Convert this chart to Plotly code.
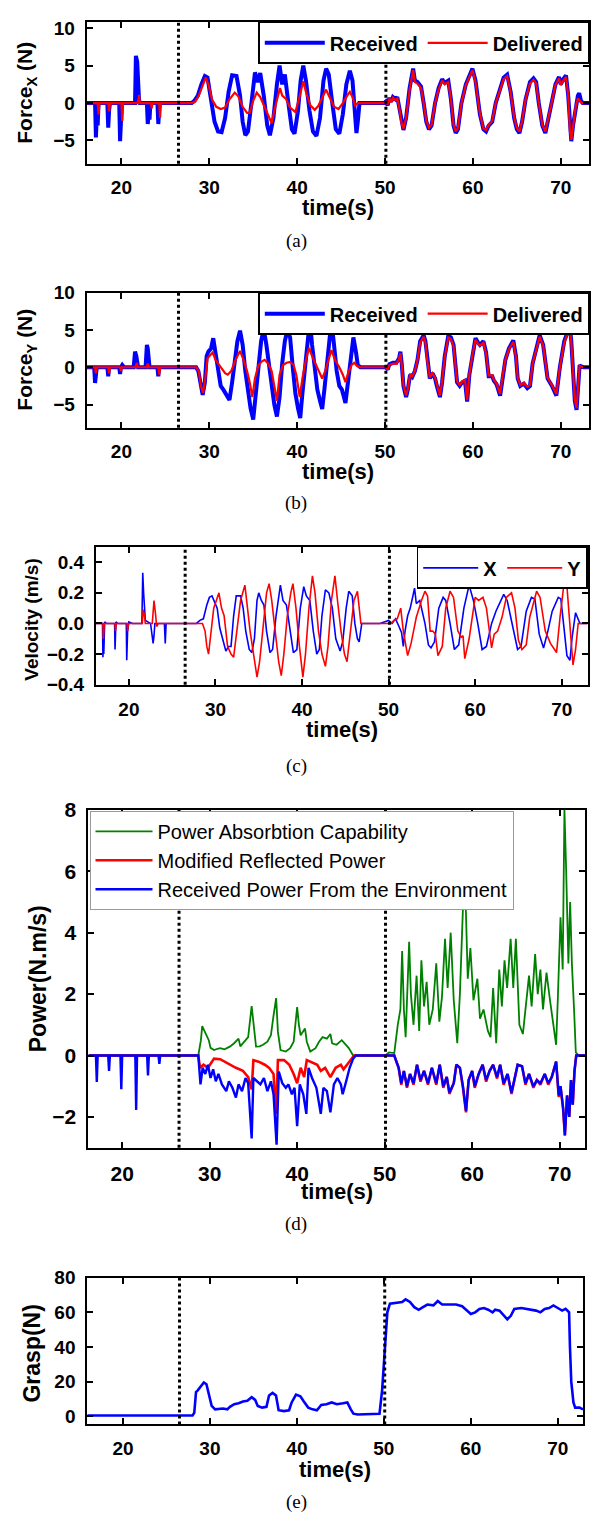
import plotly.graph_objects as go

W, H = 593, 1530
FONT = "Liberation Sans, Arial, sans-serif"
SERIF = "Liberation Serif, Times New Roman, serif"

# ---------------- data (time in s, value) ----------------
event_times = [26.5, 50.1]

fx_received = [(16.05,0),(17.0,0),(17.1,-4.6),(17.2,-1.5),(17.3,-3.0),(17.4,0),(18.4,0),(18.5,-3.3),(18.6,-1.0),(18.7,0),
    (19.75,0),(19.85,-5.1),(19.95,-2.5),(20.05,0),(21.55,0),(21.65,6.3),(21.8,5.5),(21.9,1.0),(22.0,0.5),(22.1,0),
    (22.9,0),(23.0,-2.8),(23.1,-1.2),(23.2,-2.2),(23.3,0),(24.1,0),(24.2,-2.8),(24.35,0),
    (28.0,0),(28.3,0.3),(28.7,1.0),(29.1,2.5),(29.5,3.6),(29.8,3.4),(30.2,0.5),(30.6,-2.5),(31.0,-3.8),(31.4,-3.9),
    (31.8,-2.0),(32.2,1.5),(32.6,3.7),(33.1,3.6),(33.5,1.0),(33.8,-2.5),(34.1,-4.3),(34.4,-3.8),(34.8,0),(35.2,4.1),
    (35.5,2.8),(35.8,4.0),(36.2,1.0),(36.6,-3.0),(36.9,-4.3),(37.3,-2.0),(37.7,2.5),(38.0,5.0),(38.3,2.5),(38.6,3.8),
    (39.0,0),(39.4,-3.5),(39.7,-4.1),(40.1,-1.0),(40.4,3.0),(40.7,5.0),(41.0,3.0),(41.4,-1.0),(41.8,-3.8),(42.2,-4.4),
    (42.6,-2.0),(43.0,3.0),(43.3,4.6),(43.6,3.8),(44.0,0),(44.4,-3.5),(44.8,-4.1),(45.2,-1.5),(45.6,2.5),(46.0,4.3),
    (46.3,3.0),(46.5,-1.0),(46.75,-4.0),(46.9,-2.5),(47.1,0),(47.3,0),
    (49.9,0),(50.1,0.2),(50.3,-0.3),(50.5,0.7),(50.7,0.2),(50.9,0.8),(51.2,0.5),(51.4,0.8),(51.6,-0.5),(51.9,-3.0),
    (52.1,-3.6),(52.4,-2.0),(52.8,2.0),(53.2,4.6),(53.4,3.0),(53.7,2.8),(54.1,2.2),(54.4,0),(54.7,-2.5),(55.0,-3.5),
    (55.3,-3.0),(55.7,0),(56.1,2.0),(56.5,3.2),(56.8,2.7),(57.2,3.0),(57.5,0.5),(57.8,-3.0),(58.05,-4.0),(58.3,-3.5),
    (58.7,0),(59.2,2.5),(59.7,4.0),(59.95,4.6),(60.3,3.0),(60.8,-1.5),(61.2,-3.5),(61.5,-3.8),(61.8,-3.0),(62.2,-2.5),
    (62.6,0),(63.0,1.5),(63.5,3.4),(63.9,3.8),(64.3,1.5),(64.7,-2.0),(65.0,-3.5),(65.3,-4.0),(65.6,-2.5),(66.0,0.5),
    (66.5,2.8),(66.9,3.3),(67.2,2.8),(67.5,0),(67.9,-3.0),(68.25,-4.0),(68.6,-2.0),(69.0,0.5),(69.4,2.5),(69.8,3.5),
    (70.0,2.5),(70.3,3.2),(70.6,3.7),(70.85,1.0),(71.05,-4.0),(71.2,-5.1),(71.4,-3.0),(71.7,-0.5),(71.95,1.0),(72.1,1.3),
    (72.3,0.3),(72.5,0),(73.25,0)]

fx_delivered = [(16.05,0),(17.3,0),(17.4,-1.5),(17.5,0),(18.5,0),(18.6,-1.1),(18.7,0),(20.0,0),(20.1,-2.4),(20.2,0),
    (21.9,0),(22.0,1.1),(22.1,0),(23.35,0),(23.45,-0.7),(23.55,0),(24.3,0),(24.4,-2.0),(24.5,0),
    (28.0,0),(28.4,0.2),(28.8,1.0),(29.2,2.2),(29.6,3.4),(29.9,2.5),(30.3,0.5),(30.8,-0.5),(31.3,-0.8),(31.8,-0.6),
    (32.3,0.5),(32.9,1.4),(33.3,0.9),(33.8,-0.5),(34.3,-1.3),(34.6,-1.3),(35.0,0.3),(35.4,1.4),(35.8,0.8),(36.4,-0.8),
    (36.8,-1.8),(37.1,-2.7),(37.4,-1.0),(37.8,1.0),(38.05,2.0),(38.3,1.0),(38.7,0.6),(39.2,-0.6),(39.8,-1.2),(40.2,0.5),
    (40.5,2.0),(40.7,2.9),(41.0,1.5),(41.5,-0.3),(42.0,-0.9),(42.4,-0.4),(42.9,0.8),(43.3,1.8),(43.6,1.0),(44.2,-0.5),
    (44.7,-0.8),(45.2,0),(45.7,1.0),(46.0,1.5),(46.3,0.8),(46.6,-0.3),(46.9,0),
    (49.9,0),(50.1,0.2),(50.3,-0.2),(50.5,0.6),(50.7,0.1),(50.9,0.7),(51.2,0.4),(51.4,0.6),(51.6,-0.5),(51.9,-2.8),
    (52.1,-3.4),(52.4,-2.0),(52.8,1.8),(53.2,4.4),(53.4,2.8),(53.7,2.6),(54.1,2.0),(54.4,0),(54.7,-2.4),(55.0,-3.3),
    (55.3,-2.9),(55.7,0),(56.1,1.8),(56.5,3.0),(56.8,2.5),(57.2,2.8),(57.5,0.5),(57.8,-2.9),(58.05,-3.8),(58.3,-3.3),
    (58.7,0),(59.2,2.4),(59.7,3.9),(59.95,4.4),(60.3,2.8),(60.8,-1.4),(61.2,-3.4),(61.5,-3.6),(61.8,-2.9),(62.2,-2.4),
    (62.6,0),(63.0,1.4),(63.5,3.2),(63.9,3.6),(64.3,1.4),(64.7,-1.9),(65.0,-3.3),(65.3,-3.8),(65.6,-2.4),(66.0,0.5),
    (66.5,2.6),(66.9,3.1),(67.2,2.6),(67.5,0),(67.9,-2.9),(68.25,-3.8),(68.6,-1.9),(69.0,0.5),(69.4,2.4),(69.8,3.3),
    (70.0,2.4),(70.3,3.0),(70.6,3.5),(70.85,1.0),(71.05,-3.8),(71.2,-4.9),(71.4,-2.9),(71.7,-0.5),(71.95,0.6),(72.1,0.4),
    (72.3,0.1),(72.5,0),(73.25,0)]

fy_received = [(16.05,0),(16.9,0),(17.0,-2.1),(17.1,-1.0),(17.2,0),(18.4,0),(18.5,-1.2),(18.6,0),(19.75,0),(19.85,-0.9),
    (19.95,0),(20.1,0.3),(20.3,0),(21.4,0),(21.55,2.1),(21.7,1.5),(21.8,0.3),(21.9,0),(22.75,0),(22.9,3.0),(23.0,2.5),
    (23.1,1.2),(23.2,0),(24.1,0),(24.2,-1.2),(24.3,0),
    (28.5,0),(28.75,-0.5),(29.0,-2.5),(29.25,-3.7),(29.5,-2.0),(29.7,1.5),(29.9,2.1),(30.2,2.5),(30.45,3.9),(30.7,2.0),
    (31.0,-0.5),(31.3,-2.5),(31.6,-3.0),(32.0,-3.8),(32.3,-4.4),(32.6,-2.0),(32.9,1.0),(33.2,3.5),(33.5,4.9),(33.8,3.0),
    (34.1,-0.5),(34.4,-3.5),(34.7,-5.5),(35.0,-7.0),(35.3,-4.0),(35.6,0),(35.9,3.5),(36.2,5.1),(36.5,3.0),(36.8,0),
    (37.1,-2.5),(37.4,-5.0),(37.7,-6.6),(38.0,-4.0),(38.3,0.5),(38.6,3.5),(38.9,5.0),(39.2,4.0),(39.5,0),(39.8,-3.5),
    (40.1,-5.5),(40.35,-6.8),(40.6,-3.5),(40.9,0.5),(41.2,4.0),(41.45,6.3),(41.7,3.0),(42.0,-0.5),(42.3,-3.0),(42.6,-4.5),
    (42.85,-5.6),(43.1,-3.0),(43.4,1.0),(43.7,4.5),(43.9,6.2),(44.2,3.0),(44.5,-0.5),(44.8,-2.5),(45.1,-3.0),(45.5,-4.8),
    (45.8,-2.0),(46.1,1.5),(46.4,4.0),(46.7,2.0),(46.9,0.3),(47.2,0),
    (50.1,0),(50.3,-0.3),(50.5,0.4),(50.9,0.6),(51.3,0.6),(51.6,1.2),(51.75,2.1),(51.9,0.5),(52.1,-2.5),(52.4,-4.0),
    (52.6,-3.0),(52.85,-1.0),(53.1,-1.3),(53.4,-0.5),(53.7,1.0),(54.0,3.5),(54.4,4.3),(54.6,3.5),(54.8,1.0),(55.1,-1.5),
    (55.4,-0.8),(55.7,-1.5),(55.9,-2.5),(56.25,-4.0),(56.5,-2.0),(56.8,1.5),(57.2,4.2),(57.5,4.0),(57.8,3.0),(58.0,0),
    (58.2,-2.0),(58.5,-2.5),(58.8,-2.0),(59.1,-1.8),(59.35,-4.6),(59.6,-1.0),(59.9,1.5),(60.3,3.9),(60.6,3.3),(60.8,3.0),
    (61.2,3.5),(61.5,2.0),(61.8,-1.2),(62.2,-1.2),(62.4,-1.8),(62.7,-2.3),(63.1,-3.8),(63.4,-1.0),(63.7,1.0),(64.1,2.5),
    (64.6,3.6),(64.9,1.5),(65.1,-1.5),(65.4,-2.5),(65.8,-2.2),(66.2,-2.8),(66.5,-2.5),(66.8,0.5),(67.3,3.0),(67.6,4.3),
    (68.0,3.0),(68.3,0),(68.5,-1.5),(69.0,-2.5),(69.5,-3.8),(69.9,0),(70.4,3.5),(70.8,4.8),(71.0,6.0),(71.2,3.5),
    (71.4,-1.0),(71.6,-4.5),(71.8,-5.7),(72.0,-2.0),(72.15,0.3),(72.3,0.1),(72.6,0),(73.25,0)]

fy_delivered = [(16.05,0),(17.0,0),(17.1,-0.8),(17.2,0),(18.5,0),(18.6,-0.8),(18.7,0),(19.85,0),(19.95,-0.5),(20.05,0),
    (21.6,0),(21.75,0.6),(21.85,0),(22.9,0),(23.0,0.5),(23.1,0),(24.2,0),(24.3,-1.0),(24.4,0),
    (28.5,0),(28.8,-0.5),(29.05,-2.5),(29.3,-3.4),(29.55,-1.5),(29.8,1.2),(30.0,1.5),(30.4,2.0),(30.7,1.0),(31.0,0.5),
    (31.4,0),(31.8,-0.8),(32.1,-1.0),(32.5,-0.5),(33.0,1.0),(33.5,2.2),(33.9,1.0),(34.3,-0.5),(34.6,-2.0),(34.9,-4.0),
    (35.2,-1.5),(35.6,0.3),(36.0,0.8),(36.3,1.0),(36.7,0.5),(37.1,-0.5),(37.4,-2.5),(37.7,-4.5),(38.0,-1.0),(38.4,0.3),
    (38.8,0.6),(39.2,0.7),(39.6,0.3),(39.9,-1.0),(40.3,-4.0),(40.6,-1.5),(41.0,1.0),(41.35,2.6),(41.7,1.5),(42.1,0.5),
    (42.5,-0.5),(42.85,-1.5),(43.2,-0.5),(43.6,1.0),(43.9,2.3),(44.3,1.0),(44.8,0),(45.2,-1.0),(45.5,-2.0),(45.8,-0.8),
    (46.2,0.3),(46.5,0.6),(46.8,0.2),(47.2,0),
    (50.1,0),(50.3,-0.3),(50.5,0.3),(50.9,0.5),(51.3,0.5),(51.6,1.1),(51.75,1.9),(51.9,0.4),(52.1,-2.4),(52.4,-3.8),
    (52.6,-2.9),(52.85,-1.0),(53.1,-1.2),(53.4,-0.5),(53.7,1.0),(54.0,3.3),(54.4,4.1),(54.6,3.3),(54.8,1.0),(55.1,-1.4),
    (55.4,-0.8),(55.7,-1.4),(55.9,-2.4),(56.25,-3.8),(56.5,-1.9),(56.8,1.4),(57.2,4.0),(57.5,3.8),(57.8,2.8),(58.0,0),
    (58.2,-1.9),(58.5,-2.4),(58.8,-1.9),(59.1,-1.7),(59.35,-4.4),(59.6,-1.0),(59.9,1.4),(60.3,3.7),(60.6,3.1),(60.8,2.9),
    (61.2,3.3),(61.5,1.9),(61.8,-1.1),(62.2,-1.1),(62.4,-1.7),(62.7,-2.2),(63.1,-3.6),(63.4,-1.0),(63.7,1.0),(64.1,2.4),
    (64.6,3.4),(64.9,1.4),(65.1,-1.4),(65.4,-2.4),(65.8,-2.1),(66.2,-2.6),(66.5,-2.4),(66.8,0.5),(67.3,2.9),(67.6,4.1),
    (68.0,2.9),(68.3,0),(68.5,-1.4),(69.0,-2.4),(69.5,-3.6),(69.9,0),(70.4,3.3),(70.8,4.6),(71.0,5.8),(71.2,3.3),
    (71.4,-1.0),(71.6,-4.3),(71.8,-5.5),(72.0,-1.9),(72.15,0.2),(72.3,0.1),(72.6,0),(73.25,0)]

vel_x = [(16.2,0),(16.95,0),(17.0,-0.22),(17.05,-0.1),(17.1,-0.2),(17.2,0.01),(17.4,0),(18.35,0),(18.4,-0.17),(18.5,0.01),
    (18.7,0),(19.7,0),(19.75,-0.24),(19.85,-0.05),(20.0,0.01),(20.4,0),(21.5,0),(21.6,0.33),(21.7,0.2),(21.8,0.1),
    (21.9,0.02),(22.5,0),(22.6,-0.05),(22.8,-0.13),(22.9,-0.08),(23.0,0),(24.1,0),(24.2,-0.13),(24.3,0),(24.5,0),
    (27.8,0),(28.2,0.02),(28.6,0.03),(29.0,0.12),(29.3,0.17),(29.6,0.18),(29.8,0.15),(30.2,0.1),(30.5,-0.03),(30.9,-0.12),
    (31.2,-0.18),(31.5,-0.15),(31.8,-0.15),(32.1,0.05),(32.4,0.18),(32.9,0.18),(33.2,0.1),(33.5,-0.05),(33.9,-0.17),
    (34.2,-0.19),(34.5,-0.1),(34.8,0.15),(35.0,0.2),(35.3,0.15),(35.6,0.12),(35.9,-0.05),(36.3,-0.19),(36.6,-0.17),
    (37.0,0.05),(37.5,0.25),(37.8,0.15),(38.2,0.12),(38.6,-0.05),(39.0,-0.19),(39.4,-0.17),(39.8,0.1),(40.2,0.24),
    (40.5,0.18),(40.9,0.15),(41.3,-0.05),(41.7,-0.2),(42.0,-0.17),(42.3,0.05),(42.7,0.22),(43.1,0.2),(43.5,0.1),
    (43.9,-0.1),(44.4,-0.18),(44.7,-0.12),(45.1,0.1),(45.4,0.21),(45.8,0.18),(46.1,0.0),(46.4,-0.1),(46.6,-0.12),
    (46.9,0),(49.0,0),(49.5,0.01),(50.0,0.02),(50.4,0.0),(50.8,0.03),(51.2,-0.02),(51.5,-0.06),(51.7,-0.15),(51.9,-0.05),
    (52.2,0.05),(52.5,0.1),(53.0,0.23),(53.2,0.13),(53.6,0.15),(54.2,0),(54.6,-0.14),(54.9,-0.16),(55.3,-0.12),
    (55.8,0.1),(56.3,0.17),(56.6,0.15),(57.1,0),(57.6,-0.17),(58.1,-0.14),(58.7,0.1),(59.3,0.25),(59.8,0.15),(60.3,0),
    (60.8,-0.17),(61.3,-0.15),(61.9,0),(62.4,0.08),(63.3,0.19),(63.7,0.15),(64.3,0),(64.9,-0.17),(65.3,-0.15),
    (65.9,0.08),(66.5,0.17),(66.9,0.16),(67.4,-0.07),(67.9,-0.16),(68.4,-0.05),(68.9,0.08),(69.6,0.17),(69.9,0.16),
    (70.3,-0.05),(70.6,-0.21),(70.95,-0.24),(71.2,-0.09),(71.6,0.07),(71.8,0.04),(72.1,0),(73.0,0)]

vel_y = [(16.2,0),(17.0,0),(17.05,-0.1),(17.15,0),(18.4,0),(18.45,-0.05),(18.55,0),(19.8,0),(19.85,-0.05),(19.95,0),
    (21.55,0),(21.65,0.09),(21.8,0.05),(21.9,0),(22.7,0),(22.9,0.15),(23.1,0.05),(23.2,-0.02),(23.4,0),
    (28.5,0),(28.8,-0.05),(29.0,-0.15),(29.2,-0.2),(29.5,-0.05),(29.8,0.1),(30.1,0.15),(30.4,0.2),(30.7,0.1),(31.0,0.05),
    (31.4,-0.15),(31.8,-0.2),(32.1,-0.22),(32.5,-0.05),(32.9,0.15),(33.4,0.25),(33.7,0.1),(34.0,-0.05),(34.4,-0.2),
    (34.8,-0.35),(35.1,-0.25),(35.5,0.0),(35.9,0.2),(36.2,0.26),(36.5,0.15),(36.9,-0.05),(37.3,-0.25),(37.6,-0.34),
    (37.9,-0.2),(38.3,0.05),(38.7,0.2),(38.95,0.26),(39.3,0.1),(39.7,-0.15),(40.1,-0.35),(40.4,-0.2),(40.8,0.1),
    (41.2,0.31),(41.5,0.2),(41.9,-0.05),(42.3,-0.2),(42.7,-0.28),(43.0,-0.15),(43.4,0.15),(43.8,0.31),(44.1,0.15),
    (44.5,-0.05),(44.9,-0.2),(45.2,-0.25),(45.6,-0.05),(46.0,0.15),(46.4,0.21),(46.6,0.1),(46.8,0),
    (50.3,0),(50.6,0.02),(51.0,0.03),(51.4,0.1),(51.7,-0.05),(52.0,-0.15),(52.2,-0.21),(52.6,-0.13),(53.2,0.04),
    (53.8,0.15),(54.2,0.21),(54.5,0.18),(54.8,-0.05),(55.1,-0.05),(55.4,-0.07),(55.7,-0.21),(56.2,-0.15),(56.6,0.1),
    (57.1,0.21),(57.5,0.17),(58.0,-0.05),(58.4,-0.09),(58.6,-0.08),(58.8,-0.23),(59.3,-0.1),(60.0,0.17),(60.4,0.15),
    (60.9,0.17),(61.3,0.1),(61.9,-0.16),(62.2,-0.07),(62.6,-0.05),(63.1,0.04),(63.6,0.17),(64.2,0.2),(64.6,0.1),
    (65.0,-0.11),(65.4,-0.17),(65.9,-0.14),(66.3,0.04),(67.1,0.21),(67.5,0.17),(68.1,-0.05),(68.7,-0.13),(69.4,-0.19),
    (69.8,0.04),(70.2,0.23),(70.55,0.28),(70.8,0.1),(71.1,-0.17),(71.3,-0.27),(71.6,-0.17),(71.9,0),(73.0,0)]

power_absorb = [(16.14,0),(28.7,0),(29.0,0.5),(29.15,0.96),(29.4,0.8),(29.7,0.6),(29.9,0.5),(30.1,0.25),(30.5,0.18),
    (30.9,0.22),(31.2,0.24),(31.7,0.2),(32.3,0.29),(32.8,0.4),(33.3,0.55),(33.5,0.3),(34.0,0.45),(34.4,0.6),(34.8,1.61),
    (35.0,1.0),(35.3,0.29),(35.7,0.3),(36.1,0.35),(36.6,0.45),(37.0,0.66),(37.3,1.3),(37.6,1.87),(37.8,0.77),(38.1,0.18),
    (38.7,0.13),(39.2,0.24),(39.6,0.45),(40.0,1.58),(40.2,1.0),(40.4,0.66),(40.9,0.88),(41.1,0.45),(41.5,0.13),
    (42.1,0.24),(42.5,0.45),(42.9,0.6),(43.4,0.55),(43.8,0.7),(44.0,0.4),(44.5,0.35),(45.1,0.5),(45.4,0.4),(45.9,0.24),
    (46.4,0),(50.05,0),(50.5,0.1),(51.1,0.08),(51.5,1.0),(51.8,1.5),(52.0,3.4),(52.2,1.5),(52.4,0.6),(52.8,3.7),
    (53.0,2.0),(53.3,1.0),(53.65,2.6),(53.95,0.8),(54.2,3.1),(54.5,1.6),(54.8,2.4),(55.1,1.0),(55.5,1.5),(55.9,3.0),
    (56.25,1.1),(56.55,1.9),(56.9,3.8),(57.2,2.2),(57.55,4.0),(57.9,1.8),(58.3,0.4),(58.6,2.0),(58.95,4.8),(59.2,5.6),
    (59.5,2.5),(59.8,3.5),(60.15,1.8),(60.6,2.5),(60.9,1.2),(61.3,1.5),(61.8,0.8),(62.1,0.6),(62.4,2.2),(62.75,0.4),
    (63.1,2.8),(63.4,1.6),(63.7,3.1),(64.0,2.2),(64.4,3.8),(64.7,2.2),(65.0,3.8),(65.4,1.0),(65.8,0.7),(66.1,1.5),
    (66.5,2.6),(66.8,1.6),(67.2,3.3),(67.5,2.0),(67.8,2.8),(68.1,1.5),(68.5,2.7),(68.9,1.8),(69.3,1.0),(69.6,0.35),
    (69.8,1.9),(70.1,4.5),(70.35,2.8),(70.55,8.0),(70.75,6.0),(71.0,3.0),(71.2,5.0),(71.4,3.0),(71.65,1.5),(71.85,0.1),
    (72.2,0),(72.9,0)]

power_reflected = [(16.14,0),(21.5,0),(21.6,-0.1),(21.7,0),(22.9,0),(22.95,-0.08),(23.05,0),
    (28.7,0),(28.9,-0.4),(29.3,-0.3),(29.8,-0.4),(30.5,-0.1),(31.2,-0.12),(31.7,-0.2),(32.4,-0.3),(33.0,-0.4),
    (33.8,-0.5),(34.4,-0.7),(34.8,-1.1),(35.0,-0.15),(35.6,-0.2),(36.3,-0.3),(36.8,-0.4),(37.3,-0.6),(37.6,-1.9),
    (37.8,-0.15),(38.5,-0.15),(39.1,-0.3),(39.6,-0.6),(40.0,-0.9),(40.4,-0.4),(40.8,-0.7),(41.1,-0.15),(41.8,-0.25),
    (42.3,-0.3),(42.7,-0.5),(43.2,-0.4),(43.8,-0.7),(44.4,-0.4),(45.0,-0.3),(45.3,-0.45),(45.7,-0.3),(46.2,-0.1),
    (46.5,0),(51.1,0),(51.6,-0.4),(51.9,-0.95),(52.2,-0.5),(52.55,-1.05),(52.9,-0.6),(53.3,-0.95),(53.7,-0.3),(54.1,-0.85),
    (54.5,-0.5),(54.95,-0.95),(55.4,-0.4),(55.9,-0.95),(56.3,-0.3),(56.7,-1.05),(57.1,-0.7),(57.4,-1.25),(57.9,-0.9),
    (58.2,-0.3),(58.6,-0.4),(58.95,-1.05),(59.3,-1.85),(59.6,-0.8),(60.0,-0.5),(60.3,-1.05),(60.75,-0.6),(61.2,-0.3),
    (61.6,-0.85),(62.0,-0.5),(62.4,-0.3),(62.85,-0.75),(63.2,-0.3),(63.6,-0.95),(64.05,-0.6),(64.5,-1.25),(64.8,-0.8),
    (65.2,-0.3),(65.7,-0.35),(66.1,-0.95),(66.5,-0.6),(67.0,-1.05),(67.4,-0.8),(67.8,-0.95),(68.3,-0.6),(68.7,-0.95),
    (69.1,-0.7),(69.6,-0.2),(69.9,-1.35),(70.1,-1.0),(70.4,-1.75),(70.6,-2.6),(70.85,-1.3),(71.1,-2.0),(71.3,-0.8),
    (71.5,-1.6),(71.7,-0.5),(71.9,0),(72.9,0)]

power_received = [(16.14,0),(17.0,0),(17.1,-0.86),(17.2,0),(18.4,0),(18.5,-0.5),(18.6,0),(19.8,0),(19.9,-1.1),(20.0,0),
    (21.5,0),(21.6,-1.77),(21.7,0),(22.85,0),(22.95,-0.65),(23.05,0),(24.15,0),(24.25,-0.27),(24.35,0),
    (28.7,0),(28.95,-0.94),(29.2,-0.4),(29.5,-0.6),(29.8,-0.3),(30.1,-0.73),(30.4,-0.45),(30.7,-0.84),(31.0,-0.6),
    (31.4,-0.94),(31.9,-1.16),(32.2,-0.84),(32.6,-1.05),(33.0,-1.37),(33.3,-0.94),(33.7,-1.16),(34.1,-0.73),(34.4,-0.9),
    (34.8,-2.7),(35.0,-0.73),(35.4,-0.84),(35.8,-0.94),(36.2,-0.73),(36.6,-1.16),(37.0,-0.84),(37.3,-1.26),(37.65,-2.9),
    (37.9,-0.52),(38.3,-0.9),(38.7,-1.05),(39.0,-0.94),(39.4,-1.26),(39.7,-1.05),(40.0,-2.3),(40.3,-0.94),(40.7,-1.26),
    (41.05,-1.9),(41.3,-0.4),(41.7,-0.73),(42.2,-1.05),(42.7,-1.9),(43.0,-1.05),(43.4,-1.16),(43.8,-1.85),(44.2,-0.94),
    (44.6,-0.73),(45.0,-0.94),(45.2,-1.26),(45.6,-0.84),(46.0,-0.4),(46.4,-0.1),(46.7,0),
    (51.1,0),(51.6,-0.4),(51.9,-0.9),(52.2,-0.5),(52.55,-1.0),(52.9,-0.6),(53.3,-0.9),(53.7,-0.3),(54.1,-0.8),(54.5,-0.5),
    (54.95,-0.9),(55.4,-0.4),(55.9,-0.9),(56.3,-0.3),(56.7,-1.0),(57.1,-0.7),(57.4,-1.2),(57.9,-0.9),(58.2,-0.3),
    (58.6,-0.4),(58.95,-1.0),(59.3,-1.8),(59.6,-0.8),(60.0,-0.5),(60.3,-1.0),(60.75,-0.6),(61.2,-0.3),(61.6,-0.8),
    (62.0,-0.5),(62.4,-0.3),(62.85,-0.7),(63.2,-0.3),(63.6,-0.9),(64.05,-0.6),(64.5,-1.2),(64.8,-0.8),(65.2,-0.3),
    (65.7,-0.35),(66.1,-0.9),(66.5,-0.6),(67.0,-1.0),(67.4,-0.8),(67.8,-0.9),(68.3,-0.6),(68.7,-0.9),(69.1,-0.7),
    (69.6,-0.2),(69.9,-1.3),(70.1,-1.0),(70.4,-1.7),(70.6,-2.6),(70.85,-1.3),(71.1,-2.0),(71.3,-0.8),(71.5,-1.6),
    (71.7,-0.5),(71.9,0),(72.9,0)]

grasp = [(15.9,0.5),(28.0,0.5),(28.2,2),(28.4,14),(28.6,15),(28.9,17),(29.3,19.5),(29.6,18.5),(29.9,13),(30.2,6),
    (30.6,4),(31.5,4.5),(32.0,4),(32.3,5.5),(32.8,7),(33.3,7.5),(33.8,8.5),(34.3,9),(34.8,11),(35.2,9.5),(35.5,6),
    (36.0,5),(36.5,5.5),(36.8,12),(37.2,13.5),(37.6,12),(37.9,3.5),(38.5,3),(39.1,3.5),(39.4,8),(39.9,12.5),(40.4,11.5),
    (40.8,8.5),(41.3,5),(41.8,4),(42.3,3.5),(42.8,6.5),(43.4,7),(44.0,8),(44.6,7),(45.3,7.5),(45.8,8),(46.2,4),
    (46.5,1.5),(47.0,1),(49.5,1.5),(49.8,15),(50.0,30),(50.2,50),(50.4,60),(50.7,65),(51.5,65.5),(52.1,66),(52.5,67.5),
    (53.0,66),(53.5,63),(54.0,61.5),(54.5,63),(55.0,64.5),(55.7,64),(56.2,66.5),(56.7,64.5),(57.5,64.5),(58.3,64.5),
    (59.0,63.5),(59.5,61),(60.0,59),(60.5,60),(61.0,62),(61.5,62.5),(62.0,61.5),(62.5,60),(62.8,61.5),(63.3,61),
    (63.8,58),(64.2,56),(64.6,58),(65.0,62),(65.8,62.5),(66.5,62),(67.5,61),(68.0,60),(68.5,62),(69.0,62.5),(69.5,64),
    (70.0,62.5),(70.5,61),(70.9,62),(71.3,60),(71.4,40),(71.55,20),(71.8,8),(72.0,5),(72.5,5),(72.9,4)]

x_ticks = [20, 30, 40, 50, 60, 70]

# ---------------- layout geometry (pixels) ----------------
panels = {
    "a": dict(l=86.7, r=589.3, t=10, b=154, xr=[16.05, 73.25], yr=[-8.1, 10.85], yt=[-5, 0, 5, 10], ytf=None),
    "b": dict(l=86.7, r=589.3, t=285, b=422, xr=[16.05, 73.25], yr=[-8.1, 10.0], yt=[-5, 0, 5, 10], ytf=None),
    "c": dict(l=96.0, r=587.7, t=543, b=683, xr=[16.2, 73.0], yr=[-0.4, 0.5], yt=[-0.4, -0.2, 0, 0.2, 0.4], ytf=".1f"),
    "d": dict(l=88.4, r=585.0, t=810, b=1153, xr=[16.14, 72.9], yr=[-3.0, 8.0], yt=[-2, 0, 2, 4, 6, 8], ytf=None),
    "e": dict(l=87.3, r=583.0, t=1285, b=1434, xr=[15.9, 72.9], yr=[-4.7, 80], yt=[0, 20, 40, 60, 80], ytf=None),
}

fig = go.Figure()

def add(series, k, name, color, width, legend=None, show=True):
    idx = "abcde".index(k) + 1
    s = "" if idx == 1 else str(idx)
    fig.add_trace(go.Scatter(
        x=[p[0] for p in series], y=[p[1] for p in series], mode="lines", name=name,
        line=dict(color=color, width=width), xaxis="x" + s, yaxis="y" + s,
        showlegend=show, legend=legend or "legend"))

add(fx_received, "a", "Received", "#0000FF", 4.0, "legend")
add(fx_delivered, "a", "Delivered", "#FF0000", 2.2, "legend")
add(fy_received, "b", "Received", "#0000FF", 4.0, "legend2")
add(fy_delivered, "b", "Delivered", "#FF0000", 2.2, "legend2")
add(vel_x, "c", "X", "#0000FF", 1.6, "legend3")
add(vel_y, "c", "Y", "#FF0000", 1.6, "legend3")
add(power_absorb, "d", "Power Absorbtion Capability", "#008000", 1.8, "legend4")
add(power_reflected, "d", "Modified Reflected Power", "#FF0000", 2.6, "legend4")
add(power_received, "d", "Received Power From the Environment", "#0000FF", 2.4, "legend4")
add(grasp, "e", "Grasp", "#0000FF", 2.6, show=False)

tickfont = dict(family=FONT, size=19, color="black", weight="bold")
layout = dict(width=W, height=H, margin=dict(l=0, r=0, t=0, b=0),
              paper_bgcolor="white", plot_bgcolor="white", showlegend=True)
shapes = []
for i, k in enumerate("abcde"):
    p = panels[k]
    s = "" if i == 0 else str(i + 1)
    tf = dict(tickfont)
    if k == "d":
        tf["size"] = 21
    layout["xaxis" + s] = dict(domain=[p["l"] / W, p["r"] / W], range=p["xr"], anchor="y" + s,
        tickvals=x_ticks, ticks="inside", ticklen=6, tickwidth=1.5, tickcolor="black",
        showline=True, linecolor="black", linewidth=2, mirror="ticks", showgrid=False,
        zeroline=False, tickfont=tf, ticklabelstandoff=6)
    layout["yaxis" + s] = dict(domain=[1 - p["b"] / H, 1 - p["t"] / H], range=p["yr"], anchor="x" + s,
        tickvals=p["yt"], tickformat=p["ytf"], ticks="inside", ticklen=6, tickwidth=1.5, tickcolor="black",
        showline=True, linecolor="black", linewidth=2, mirror="ticks", showgrid=False,
        zeroline=False, tickfont=tf, ticklabelstandoff=6)
    for et in event_times:
        shapes.append(dict(type="line", xref="x" + s, yref="y" + s + " domain", x0=et, x1=et, y0=0, y1=1,
                           line=dict(color="black", width=3, dash="3px,3px"), layer="above"))
layout["shapes"] = shapes

leg_bold = dict(family=FONT, size=20, color="black", weight="bold")
layout["legend"] = dict(x=589.3 / W, xanchor="right", y=1 - 10 / H, yanchor="top", orientation="h",
    bgcolor="white", bordercolor="black", borderwidth=1.5, font=leg_bold, itemwidth=60)
layout["legend2"] = dict(x=589.3 / W, xanchor="right", y=1 - 285 / H, yanchor="top", orientation="h",
    bgcolor="white", bordercolor="black", borderwidth=1.5, font=leg_bold, itemwidth=60)
layout["legend3"] = dict(x=587.7 / W, xanchor="right", y=1 - 543 / H, yanchor="top", orientation="h",
    bgcolor="white", bordercolor="black", borderwidth=1.5, font=leg_bold, itemwidth=55)
layout["legend4"] = dict(x=89.5 / W, xanchor="left", y=1 - 811 / H, yanchor="top", orientation="v",
    bgcolor="white", bordercolor="#999999", borderwidth=1, font=dict(family=FONT, size=20, color="black"),
    itemwidth=57)

ann = []
def text(x, y, t, size, bold=True, angle=0, family=FONT):
    f = dict(family=family, size=size, color="black")
    if bold:
        f["weight"] = "bold"
    ann.append(dict(x=x / W, y=1 - y / H, xref="paper", yref="paper", text=t, showarrow=False,
                    font=f, textangle=angle, xanchor="center", yanchor="middle"))

text(26, 82, "Force<sub>X</sub> (N)", 21, angle=-90)
text(26, 353, "Force<sub>Y</sub> (N)", 21, angle=-90)
text(32, 617, "Velocity (m/s)", 19, angle=-90)
text(38, 982, "Power(N.m/s)", 23, angle=-90)
text(32, 1362, "Grasp(N)", 23, angle=-90)
for k, ty, cy in [("a", 198, 232), ("b", 467, 499), ("c", 728, 765), ("d", 1198, 1231), ("e", 1480, 1513)]:
    p = panels[k]
    text((p["l"] + p["r"]) / 2, ty, "time(s)", 22)
    text(296, cy, "(" + k + ")", 19, bold=False, family=SERIF)
layout["annotations"] = ann

fig.update_layout(**layout)
fig.write_html("out.html")
